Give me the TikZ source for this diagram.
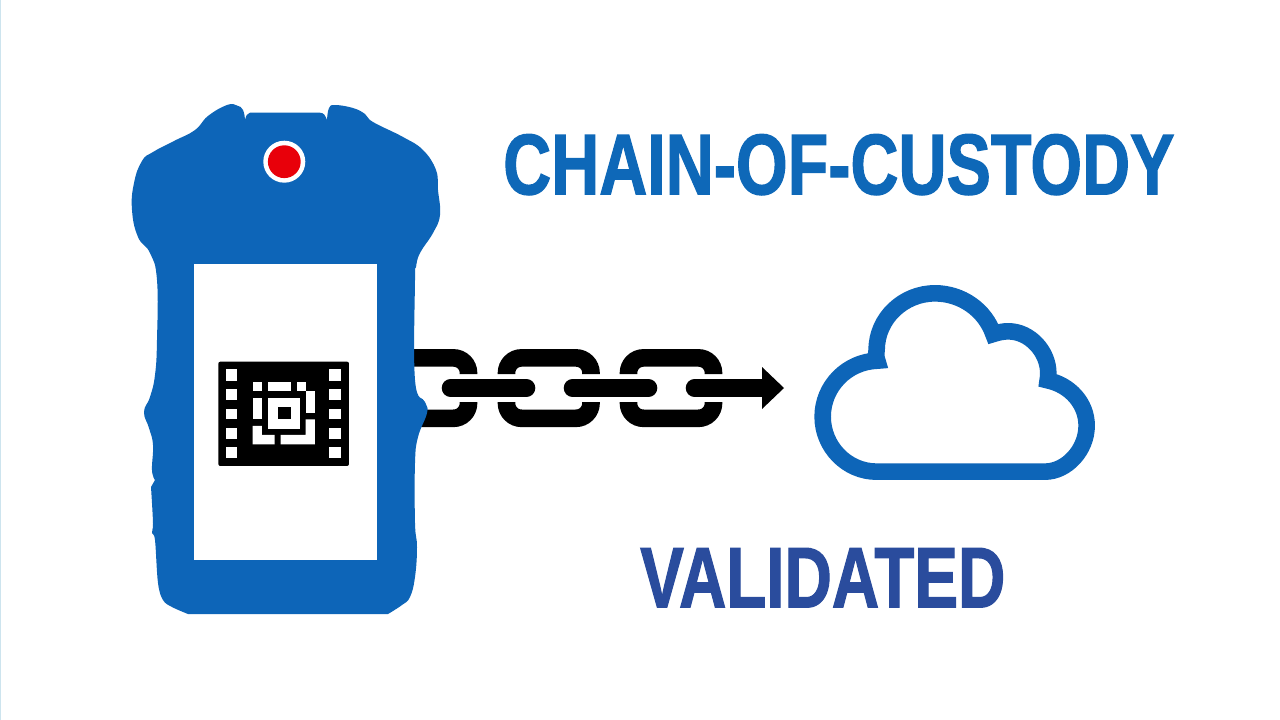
\documentclass[tikz,border=0pt]{standalone}
\usepackage{fontspec}
\setmainfont{Liberation Sans}
\newfontfamily\heavyface[BoldFont={Liberation Sans Bold},BoldFeatures={FakeBold=1.6}]{Liberation Sans}
\definecolor{devblue}{RGB}{13,101,184}
\definecolor{titleblue}{RGB}{14,104,184}
\definecolor{valblue}{RGB}{42,76,157}
\definecolor{alertred}{RGB}{232,0,10}
\definecolor{edgeblue}{RGB}{205,228,238}
\tikzset{
  linkstroke/.style={draw=black,line width=17.6pt,rounded corners=15pt,line cap=butt},
  pinbar/.style={draw=black,line width=17.6pt,line cap=round},
  whitecell/.style={fill=white,draw=none},
  titletext/.style={inner sep=0pt,font=\heavyface\bfseries},
}
\begin{document}
\begin{tikzpicture}[x=1pt,y=-1pt]
\useasboundingbox (0,0) rectangle (1280,720);
\fill[white] (0,0) rectangle (1280,720);
\fill[edgeblue] (0,0) rectangle (1.2,720);
% chain
\draw[linkstroke] (400,357.9) -- (468.5,357.9) -- (468.5,374);
\draw[linkstroke] (400,418.3) -- (468.5,418.3) -- (468.5,402);
\draw[linkstroke] (506.5,374) -- (506.5,357.9) -- (591,357.9) -- (591,374);
\draw[linkstroke] (506.5,402) -- (506.5,418.3) -- (591,418.3) -- (591,402);
\draw[linkstroke] (628.5,374) -- (628.5,357.9) -- (713.5,357.9) -- (713.5,374);
\draw[linkstroke] (628.5,402) -- (628.5,418.3) -- (713.5,418.3) -- (713.5,402);
\draw[pinbar] (450.5,388) -- (526.5,388);
\draw[pinbar] (572.5,388) -- (648.5,388);
\coordinate (shaftstart) at (694.5,388);
\coordinate (shaftend) at (763,388);
\coordinate (headtip) at (784,388);
\draw[pinbar] (shaftstart) -- (700,388);
\draw[draw=black,line width=17.6pt] (700,388) -- (shaftend);
\fill[black] (762,367) -- (headtip) -- (762,409) -- cycle;
% device
\fill[devblue]
  plot[smooth,tension=0.75] coordinates {(245,120) (243,110) (237,105.5) (227,105) (208,116) (195,130) (174,141) (153,152) (142,161) (134,183) (132,210) (138,237) (150,253) (157,280) (157,340) (155,375) (150,397) (144,412) (149,428) (153,445) (152,470) (155,480)}
  -- plot[smooth,tension=0.6] coordinates {(151,487) (153,523) (152,533) (155,540) (158,583) (163,600) (172,607) (188,614)}
  -- (388,614)
  -- plot[smooth,tension=0.7] coordinates {(388,614) (402,605) (410,597) (415,577) (417,547) (415,523) (415,463) (418,437) (427,413) (425,402) (415,380) (415,280) (416,267) (420,253) (433,233) (440,215) (438,190) (436,170) (423,150) (403,137) (373,122) (365,114) (353,108) (335,105) (329,108) (327,120)}
  -- (327,120) .. controls (325,115) and (324,113) .. (320,112.7) -- (250,112.7) .. controls (247,113) and (246,116) .. (245,120) -- cycle;
\fill[white] (194,264) rectangle (377,560);
\fill[white] (284.3,161.7) circle (21);
\fill[alertred] (284.3,161.7) circle (16.4);
% code icon
\begin{scope}[shift={(200,350)},x=0.3333pt,y=-0.3333pt]
\fill[black,rounded corners=2pt] (55,35) rectangle (447,348);
\foreach \ya/\yb in {58/92,118/150,176/208,234/266,290/324}{
  \fill[whitecell] (77,\ya) rectangle (112,\yb);
  \fill[whitecell] (388,\ya) rectangle (424,\yb);
}
\fill[whitecell] (158,97) rectangle (186,124);
\fill[whitecell] (205,97) rectangle (272,124);
\fill[whitecell] (290,97) rectangle (317,124);
\fill[whitecell] (317,124) rectangle (345,190);
\fill[whitecell] (158,143) rectangle (186,208);
\fill[whitecell] (205,143) rectangle (300,238);
\fill[black] (233,171) rectangle (272,208);
\fill[whitecell] (158,228) -- (186,228) -- (186,255) -- (224,255) -- (224,283) -- (158,283) -- cycle;
\fill[whitecell] (317,208) -- (345,208) -- (345,283) -- (242,283) -- (242,255) -- (317,255) -- cycle;
\end{scope}
% cloud
\begin{scope}[shift={(800,270)},x=0.3333pt,y=-0.3333pt]
\draw[devblue,line width=16.6pt,miter limit=10]
 (230,605) .. controls (140,605) and (68,530) .. (68,440)
 .. controls (68,350) and (140,275) .. (232,272)
 .. controls (228,262) and (228,250) .. (230,240)
 .. controls (230,145) and (310,70) .. (405,70)
 .. controls (485,70) and (555,120) .. (580,192)
 .. controls (595,187) and (610,184) .. (625,184)
 .. controls (690,184) and (745,245) .. (745,310)
 .. controls (745,318) and (744,325) .. (743,331)
 .. controls (810,345) and (860,400) .. (860,467)
 .. controls (860,540) and (800,605) .. (735,605)
 -- cycle;
\end{scope}
% texts
\node[titletext,text=titleblue,anchor=north west] (title) at (503,134) {\resizebox{671pt}{60pt}{CHAIN-OF-CUSTODY}};
\node[titletext,text=valblue,anchor=north west] (status) at (640,548) {\resizebox{365pt}{59pt}{VALIDATED}};
\end{tikzpicture}
\end{document}
